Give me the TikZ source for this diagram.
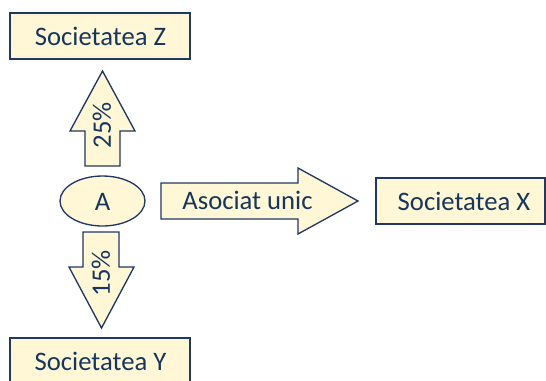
\documentclass[tikz,border=0pt]{standalone}
\usepackage{xcolor}
\usepackage{fontspec}
\setmainfont{Carlito}
\usepackage{tikz}
\usetikzlibrary{positioning}

\definecolor{boxfill}{RGB}{255,247,213}
\definecolor{boxline}{RGB}{31,56,100}
\definecolor{boxtext}{RGB}{23,54,93}

\tikzset{
  shapestyle/.style={draw=boxline,fill=boxfill,line width=1pt},
  label/.style={text=boxtext,inner sep=0.75pt,font=\fontsize{20}{23}\selectfont}
}

\begin{document}
\begin{tikzpicture}[x=0.75pt,y=0.75pt,yscale=-1,xscale=1]
\useasboundingbox (0,0) rectangle (546,380);

%Shape: Rectangle Z
        \draw [shapestyle] (10,13) -- (190,13) -- (190,59) -- (10,59) -- cycle ;
%Shape: Rectangle X
        \draw [shapestyle] (376,178) -- (545,178) -- (545,224) -- (376,224) -- cycle ;
%Shape: Rectangle Y
        \draw [shapestyle] (10,338) -- (190,338) -- (190,384) -- (10,384) -- cycle ;
%Shape: Ellipse A
        \draw [shapestyle] (102.5,201) ellipse (42.5 and 25) ;
%Up Arrow
        \draw [shapestyle] (85,166) -- (85,131) -- (70,131) -- (102.5,71) -- (135,131) -- (120,131) -- (120,166) -- cycle ;
%Down Arrow
        \draw [shapestyle] (83,232) -- (119,232) -- (119,267) -- (134,267) -- (101.5,328) -- (69,267) -- (83,267) -- cycle ;
%Right Arrow
        \draw [shapestyle] (161,183) -- (298,183) -- (298,168) -- (358,201) -- (298,234) -- (298,219) -- (161,219) -- cycle ;

% Text Node
        \node [label] (socz) at (100.5,36) {Societatea Z};
% Text Node
        \node [label] (socx) at (464,201) {Societatea X};
% Text Node
        \node [label] (socy) at (100.5,361) {Societatea Y};
% Text Node
        \node [label] (asoc) at (102.5,202) {A};
% Text Node
        \node [label] (unic) at (247.5,200) {Asociat unic};
% Text Node
        \node [label,rotate=90] (pz) at (102,125) {25\%};
% Text Node
        \node [label,rotate=90] (py) at (101,273) {15\%};

\end{tikzpicture}
\end{document}
